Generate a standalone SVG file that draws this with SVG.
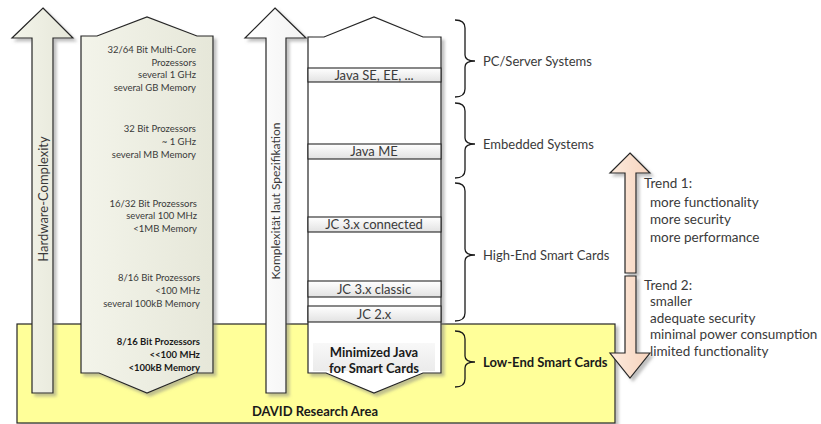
<svg xmlns="http://www.w3.org/2000/svg" width="821" height="424" viewBox="0 0 821 424">
<defs>
<linearGradient id="gGreen" x1="0" y1="0" x2="1" y2="0"><stop offset="0" stop-color="#F3F4EA"/><stop offset="1" stop-color="#E6E7D9"/></linearGradient>
<linearGradient id="gWhite" x1="0" y1="0" x2="1" y2="0"><stop offset="0" stop-color="#FFFFFF"/><stop offset="1" stop-color="#F2F2F2"/></linearGradient>
<linearGradient id="gBar" x1="0" y1="0" x2="0" y2="1"><stop offset="0" stop-color="#FFFFFF"/><stop offset="1" stop-color="#E2E2E2"/></linearGradient>
<linearGradient id="gPeach" x1="0" y1="0" x2="1" y2="0"><stop offset="0" stop-color="#FDEBDD"/><stop offset="1" stop-color="#F6D3BD"/></linearGradient>
<linearGradient id="gMin" x1="0" y1="0" x2="0" y2="1"><stop offset="0" stop-color="#F6F6F6"/><stop offset="1" stop-color="#E6E6E6"/></linearGradient>
<filter id="sh" x="-10%" y="-10%" width="130%" height="130%"><feDropShadow dx="3" dy="3" stdDeviation="1.5" flood-color="#808080" flood-opacity="0.5"/></filter>
</defs>
<style>
.ln{stroke:#262626;stroke-width:1.2;}
.t{font-family:Lato,"Open Sans","Liberation Sans",sans-serif;fill:#3A3A3A;}
.s{font-size:9.5px;text-anchor:end;}
.b{font-weight:bold;fill:#1A1A1A;}
.bar{fill:url(#gBar);stroke:#262626;stroke-width:1.1;}
.bt{font-size:13px;text-anchor:middle;}
.lbl{font-size:13px;}
.tr{font-size:13.5px;}
.br{fill:none;stroke:#1A1A1A;stroke-width:1.3;}
</style>
<g id="research-area">
<rect x="17" y="324" width="598" height="99" fill="#FFFF99" class="ln" filter="url(#sh)"/>
<text class="t b" x="315" y="416" font-size="13" text-anchor="middle">DAVID Research Area</text>
</g>
<g id="hardware-arrow">
<path d="M43,8 L73,38 L53,38 L53,393 L32,393 L32,38 L12,38 Z" fill="url(#gGreen)" class="ln" filter="url(#sh)"/>
<text class="t" font-size="13" transform="translate(47.5,199) rotate(-90)" text-anchor="middle">Hardware-Complexity</text>
</g>
<g id="hardware-column">
<path d="M81,36 L97,36 L147,17 L197,36 L213,36 L213,373 L195,373 L147,393 L99,373 L81,373 Z" fill="url(#gGreen)" class="ln" filter="url(#sh)"/>
<text class="t s"><tspan x="196" y="53">32/64 Bit Multi-Core</tspan><tspan x="196" y="65.5">Prozessors</tspan><tspan x="196" y="78">several 1 GHz</tspan><tspan x="196" y="90.5">several GB Memory</tspan></text>
<text class="t s"><tspan x="196" y="131.5">32 Bit Prozessors</tspan><tspan x="196" y="145">~ 1 GHz</tspan><tspan x="196" y="158">several MB Memory</tspan></text>
<text class="t s"><tspan x="197" y="206.5">16/32 Bit Prozessors</tspan><tspan x="197" y="219">several 100 MHz</tspan><tspan x="197" y="231.5">&lt;1MB Memory</tspan></text>
<text class="t s"><tspan x="200" y="280.5">8/16 Bit Prozessors</tspan><tspan x="200" y="293.5">&lt;100 MHz</tspan><tspan x="200" y="306.5">several 100kB Memory</tspan></text>
<text class="t s b"><tspan x="200" y="344.5">8/16 Bit Prozessors</tspan><tspan x="200" y="357.5">&lt;&lt;100 MHz</tspan><tspan x="200" y="370.5">&lt;100kB Memory</tspan></text>
</g>
<g id="spec-arrow">
<path d="M275,8 L306,38 L286,38 L286,393 L266,393 L266,38 L245,38 Z" fill="url(#gWhite)" class="ln" filter="url(#sh)"/>
<text class="t" font-size="12" transform="translate(280,201) rotate(-90)" text-anchor="middle">Komplexität laut Spezifikation</text>
</g>
<g id="java-column">
<path d="M308,37 L324,37 L374,17 L423,37 L441,37 L441,373 L423,373 L374,393 L326,373 L308,373 Z" fill="#FFFFFF" class="ln" filter="url(#sh)"/>
</g>
<g id="java-se">
<rect x="308" y="68" width="133" height="14" class="bar"/>
<text class="t bt" x="374" y="79.5">Java SE, EE, ...</text>
</g>
<g id="java-me">
<rect x="308" y="144" width="133" height="15" class="bar"/>
<text class="t bt" x="374" y="156">Java ME</text>
</g>
<g id="jc3-connected">
<rect x="308" y="217" width="133" height="15" class="bar"/>
<text class="t bt" x="374" y="229">JC 3.x connected</text>
</g>
<g id="jc3-classic">
<rect x="308" y="281" width="133" height="16" class="bar"/>
<text class="t bt" x="374" y="293.5">JC 3.x classic</text>
</g>
<g id="jc2">
<rect x="308" y="306" width="133" height="16" class="bar"/>
<text class="t bt" x="374" y="318.5">JC 2.x</text>
</g>
<g id="minimized-java">
<rect x="313" y="343" width="122" height="28" fill="url(#gMin)" opacity="0.8"/>
<text class="t bt b" font-size="14.5"><tspan x="374" y="357">Minimized Java</tspan><tspan x="374" y="373">for Smart Cards</tspan></text>
</g>
<g id="connectors">
<path class="br" d="M455,20 Q465,20 465,28 L465,55 Q465,61 475,61 Q465,61 465,67 L465,89 Q465,97 455,97"/>
<path class="br" d="M455,103 Q465,103 465,111 L465,138 Q465,144 475,144 Q465,144 465,150 L465,170 Q465,178 455,178"/>
<path class="br" d="M455,183 Q465,183 465,191 L465,249 Q465,255 475,255 Q465,255 465,261 L465,313 Q465,321 455,321"/>
<path class="br" d="M455,331 Q465,331 465,339 L465,356 Q465,362 475,362 Q465,362 465,368 L465,379 Q465,387 455,387"/>
</g>
<g id="pc-server">
<text class="t lbl" x="483" y="65.5">PC/Server Systems</text>
</g>
<g id="embedded">
<text class="t lbl" x="483" y="148.5">Embedded Systems</text>
</g>
<g id="high-end">
<text class="t lbl" x="483" y="259.5">High-End Smart Cards</text>
</g>
<g id="low-end">
<text class="t lbl b" x="483" y="366.5">Low-End Smart Cards</text>
</g>
<g id="trend1">
<path d="M630,153 L650,173 L636,173 L636,273 L625,273 L625,173 L610,173 Z" fill="url(#gPeach)" class="ln" filter="url(#sh)"/>
<text class="t tr"><tspan x="644" y="187.5">Trend 1:</tspan><tspan x="650" y="207">more functionality</tspan><tspan x="650" y="224">more security</tspan><tspan x="650" y="241.5">more performance</tspan></text>
</g>
<g id="trend2">
<path d="M625,276 L636,276 L636,353 L650,353 L630,378 L610,353 L625,353 Z" fill="url(#gPeach)" class="ln" filter="url(#sh)"/>
<text class="t tr"><tspan x="644" y="289.5">Trend 2:</tspan><tspan x="650" y="306">smaller</tspan><tspan x="650" y="322.5">adequate security</tspan><tspan x="650" y="338.5">minimal power consumption</tspan><tspan x="650" y="355.5">limited functionality</tspan></text>
</g>
</svg>
